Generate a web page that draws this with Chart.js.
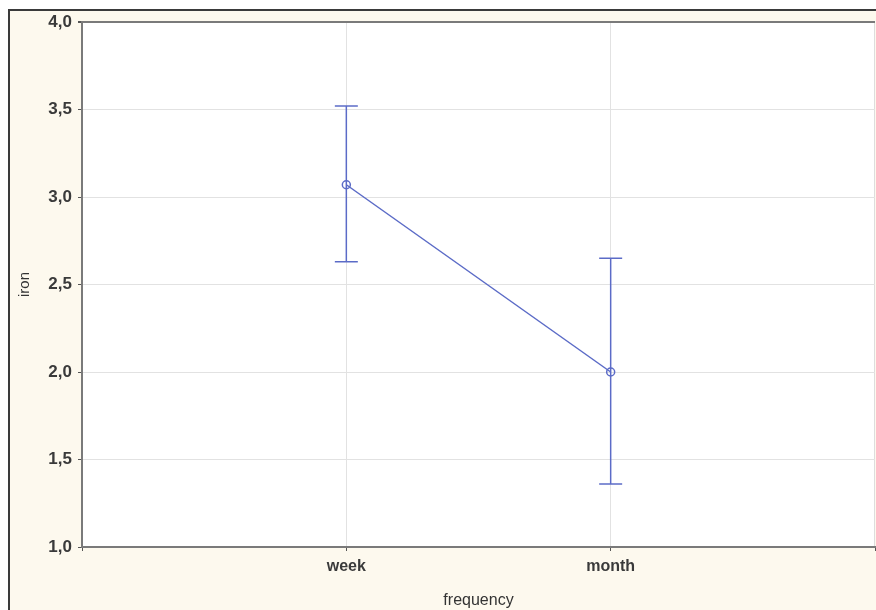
<!DOCTYPE html>
<html>
<head>
<meta charset="utf-8">
<script src="https://cdn.jsdelivr.net/npm/chart.js@4"></script>
<style>
    html, body { margin: 0; padding: 0; background: #ffffff; overflow: hidden; }
    #frame {
        position: absolute; left: 8px; top: 9px; width: 900px; height: 640px;
        border: 2px solid #3a3a3a; background: #fdf9ee;
    }
    #wrap { position: absolute; left: 0; top: 0; width: 876px; height: 610px; }
</style>
</head>
<body>
<div id="frame"></div>
<div id="wrap"><canvas id="chart" width="876" height="610"></canvas></div>
<script>
// Means plot: iron by frequency
const categories = ['week', 'month'];
const means = [3.07, 2.0];
const upper = [3.52, 2.65];
const lower = [2.63, 1.36];
const yTicks = [1.0, 1.5, 2.0, 2.5, 3.0, 3.5, 4.0];

const blue = '#5b6bc7';

// Plot area background
const plotBg = {
    id: 'plotBg',
    beforeDraw(chart) {
        const { ctx, chartArea: a } = chart;
        ctx.save();
        ctx.fillStyle = '#ffffff';
        ctx.fillRect(a.left, a.top, a.right - a.left, a.bottom - a.top);
        ctx.strokeStyle = '#dddddd';
        ctx.lineWidth = 1;
        ctx.beginPath();
        ctx.moveTo(a.right - 0.5, a.top);
        ctx.lineTo(a.right - 0.5, a.bottom);
        ctx.stroke();
        ctx.restore();
    }
};

const datasets = [];
// error bars: vertical segment + caps
categories.forEach((c, i) => {
    datasets.push({
        data: [{ x: i + 1, y: lower[i] }, { x: i + 1, y: upper[i] }],
        borderColor: blue,
        borderWidth: 1.5,
        pointStyle: 'line',
        pointRadius: 11.5,
        pointBorderColor: blue,
        pointBorderWidth: 1.5,
        pointHoverRadius: 11.5
    });
});
// mean line
datasets.push({
    data: categories.map((c, i) => ({ x: i + 1, y: means[i] })),
    borderColor: blue,
    borderWidth: 1.5,
    pointStyle: 'circle',
    pointRadius: 4,
    pointBackgroundColor: 'rgba(255,255,255,0)',
    pointBorderColor: blue,
    pointBorderWidth: 1.5
});

const family = 'Liberation Sans, Arial, sans-serif';

new Chart(document.getElementById('chart'), {
    type: 'line',
    data: { datasets },
    options: {
        responsive: false,
        animation: false,
        layout: { autoPadding: false, padding: { top: 22, right: 1, left: 0, bottom: 0 } },
        plugins: { legend: { display: false }, tooltip: { enabled: false } },
        scales: {
            x: {
                type: 'linear',
                min: 0,
                max: 3,
                afterBuildTicks(scale) {
                    scale.ticks = [0, 1, 2, 3].map(v => ({ value: v }));
                },
                afterFit(scale) {
                    scale.height = 63;
                    scale.paddingLeft = 0;
                    scale.paddingRight = 0;
                },
                ticks: {
                    color: '#3a3a3a',
                    font: { family, size: 16, weight: 'bold' },
                    padding: 6,
                    maxRotation: 0,
                    callback: (v) => categories[v - 1] || ''
                },
                grid: {
                    color: (c) => (c.tick && (c.tick.value === 1 || c.tick.value === 2)) ? '#e2e2e2' : 'rgba(0,0,0,0)',
                    tickColor: '#555555',
                    tickLength: 4,
                    lineWidth: 1
                },
                border: { color: '#7a7a7a', width: 2 },
                title: {
                    display: true,
                    text: 'frequency',
                    color: '#333333',
                    font: { family, size: 16 },
                    padding: { top: 8, bottom: 0 }
                }
            },
            y: {
                min: 1,
                max: 4,
                afterBuildTicks(scale) {
                    scale.ticks = yTicks.map(v => ({ value: v }));
                },
                afterFit(scale) { scale.width = 82; },
                ticks: {
                    color: '#3a3a3a',
                    font: { family, size: 17, weight: 'bold' },
                    padding: 6,
                    callback: (v) => v.toFixed(1).replace('.', ',')
                },
                grid: {
                    color: (c) => c.tick && c.tick.value === 4 ? '#7a7a7a' : '#e2e2e2',
                    lineWidth: (c) => c.tick && c.tick.value === 4 ? 2 : 1,
                    tickColor: '#555555',
                    tickLength: 4
                },
                border: { color: '#7a7a7a', width: 2 },
                title: {
                    display: true,
                    text: 'iron',
                    color: '#333333',
                    font: { family, size: 15 },
                    padding: { top: 16, bottom: 0 }
                }
            }
        }
    },
    plugins: [plotBg]
});
</script>
</body>
</html>
